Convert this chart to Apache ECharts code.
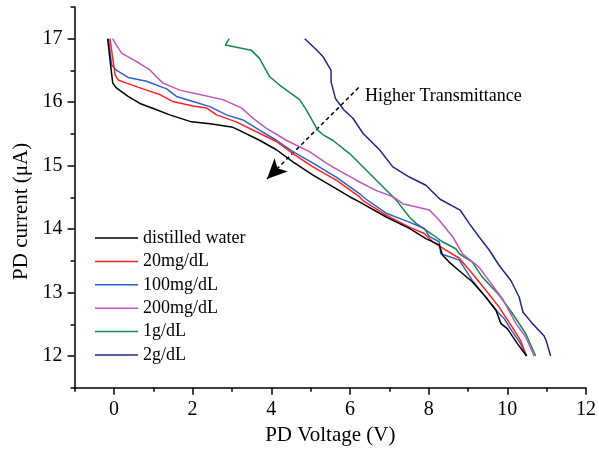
<!DOCTYPE html>
<html>
<head>
<meta charset="utf-8">
<script src="https://cdn.jsdelivr.net/npm/echarts@6/dist/echarts.min.js"></script>
<style>
  html, body { margin: 0; padding: 0; background: #fff; }
  #chart { width: 599px; height: 452px; }
</style>
</head>
<body>
<div id="chart"></div>
<script>
// PD current vs PD voltage, [voltage V, current uA]
const names = ["distilled water", "20mg/dL", "100mg/dL", "200mg/dL", "1g/dL", "2g/dL"];
const colors = ["#000000", "#ff2020", "#2f60c8", "#c055c0", "#108a48", "#1c2a80"];

const distilledWater = [[-0.16,17],[-0.08,16.56],[-0.03,16.3],[0.07,16.22],[0.36,16.09],[0.66,15.98],[1.0,15.9],[1.42,15.8],[1.97,15.69],[2.44,15.66],[2.99,15.61],[3.11,15.58],[3.7,15.4],[4.13,15.25],[4.55,15.06],[5.06,14.85],[5.56,14.67],[5.99,14.51],[6.24,14.43],[6.92,14.19],[7.51,14.01],[7.93,13.85],[8.27,13.75],[8.35,13.59],[8.52,13.48],[8.86,13.3],[9.11,13.17],[9.45,12.93],[9.71,12.72],[9.84,12.51],[10.0,12.43],[10.26,12.19],[10.49,12]];
const mg20 = [[-0.1,17],[0.03,16.43],[0.11,16.35],[0.32,16.3],[0.83,16.19],[1.17,16.12],[1.5,16.01],[2.01,15.94],[2.35,15.91],[2.61,15.8],[3.11,15.69],[3.7,15.51],[4.13,15.38],[4.55,15.19],[5.06,14.98],[5.65,14.77],[6.24,14.51],[6.33,14.45],[6.92,14.22],[7.51,14.03],[7.89,13.93],[8.1,13.8],[8.44,13.67],[8.78,13.54],[9.11,13.3],[9.45,13.04],[9.79,12.77],[10.13,12.45],[10.34,12.24],[10.49,12]];
const mg100 = [[-0.14,17],[-0.06,16.59],[0.07,16.5],[0.36,16.39],[0.83,16.33],[1.34,16.21],[1.59,16.09],[2.01,16.01],[2.44,15.93],[2.86,15.8],[3.28,15.72],[3.7,15.56],[4.13,15.4],[4.55,15.22],[5.06,15.04],[5.65,14.82],[6.24,14.56],[6.41,14.47],[6.92,14.25],[7.51,14.11],[7.89,14.01],[8.02,13.88],[8.27,13.8],[8.31,13.61],[8.78,13.51],[9.11,13.19],[9.45,12.93],[9.79,12.67],[9.92,12.59],[10.13,12.38],[10.34,12.19],[10.49,12]];
const mg200 = [[-0.03,17],[0.03,16.93],[0.2,16.77],[0.58,16.64],[0.91,16.51],[1.08,16.4],[1.25,16.3],[1.67,16.19],[2.18,16.12],[2.77,16.04],[3.24,15.91],[3.53,15.75],[3.87,15.59],[4.38,15.4],[4.97,15.22],[5.4,15.04],[5.56,14.98],[6.16,14.77],[6.66,14.61],[7.09,14.51],[7.34,14.4],[8.02,14.3],[8.27,14.14],[8.61,13.88],[8.86,13.61],[9.28,13.4],[9.71,13.04],[9.88,12.9],[10.22,12.51],[10.47,12.3],[10.68,12]];
const g1 = [[2.93,17],[2.83,16.9],[3.49,16.82],[3.7,16.69],[3.96,16.4],[4.21,16.27],[4.72,16.04],[4.89,15.88],[5.18,15.56],[5.31,15.49],[5.56,15.4],[5.99,15.19],[6.41,14.93],[6.83,14.67],[7.17,14.46],[7.51,14.19],[7.68,14.09],[8.06,13.93],[8.35,13.8],[8.69,13.69],[8.78,13.61],[9.11,13.48],[9.37,13.24],[9.79,12.96],[10.13,12.67],[10.47,12.35],[10.72,12]];
const g2 = [[4.85,17],[5.14,16.83],[5.31,16.72],[5.52,16.5],[5.52,16.32],[5.63,16.06],[5.84,15.88],[6.07,15.75],[6.33,15.51],[6.75,15.25],[7.09,14.98],[7.51,14.82],[7.93,14.69],[8.29,14.47],[8.8,14.3],[9.03,14.09],[9.28,13.88],[9.54,13.67],[9.79,13.43],[10.09,13.19],[10.3,12.93],[10.4,12.69],[10.64,12.51],[10.93,12.32],[10.99,12.24],[11.1,12]];

const allData = [distilledWater, mg20, mg100, mg200, g1, g2];

const xMajor = [0, 2, 4, 6, 8, 10, 12];
const xMinor = [-1, 1, 3, 5, 7, 9, 11];
const yMajor = [12, 13, 14, 15, 16, 17];
const yMinor = [11.5, 12.5, 13.5, 14.5, 15.5, 16.5, 17.5];

// dashed arrow ends (data coords)
const arrowFrom = [6.22, 16.23];
const arrowTo = [3.89, 14.79];

const font = "'Liberation Serif', 'Times New Roman', serif";

const series = allData.map((d, i) => ({
  name: names[i],
  type: 'line',
  data: d,
  symbol: 'none',
  showSymbol: false,
  color: colors[i],
  lineStyle: { color: colors[i], width: 1.5 },
  z: 10 - i
}));

// arrow "Higher Transmittance"
series[0].markLine = {
  silent: true,
  symbol: ['none', 'arrow'],
  symbolSize: [14, 20],
  label: { show: false },
  lineStyle: { color: '#000', type: [4, 3], width: 1.5 },
  data: [[{ coord: arrowFrom }, { coord: arrowTo }]]
};

const chart = echarts.init(document.getElementById('chart'));
chart.setOption({
  animation: false,
  backgroundColor: '#fff',
  textStyle: { fontFamily: font },
  grid: { left: 74.6, right: 12, top: 7, bottom: 64.3 },
  legend: {
    orient: 'vertical',
    left: 95,
    top: 228,
    padding: 0,
    icon: 'rect',
    itemWidth: 43,
    itemHeight: 1.5,
    itemGap: 3.4,
    data: names,
    textStyle: { fontFamily: font, fontSize: 18, color: '#000', lineHeight: 20 }
  },
  graphic: [{
    type: 'text',
    left: 365,
    top: 87,
    style: { text: 'Higher Transmittance', font: '18px ' + font, fill: '#000' }
  }],
  xAxis: [{
    type: 'value',
    min: -1,
    max: 12,
    position: 'bottom',
    name: 'PD Voltage (V)',
    nameLocation: 'middle',
    nameGap: 32,
    nameTextStyle: { fontSize: 21, color: '#000', fontFamily: font },
    splitLine: { show: false },
    axisLine: { show: true, onZero: false, lineStyle: { color: '#000', width: 1.5 } },
    axisTick: { show: true, length: 7, customValues: xMajor, lineStyle: { color: '#000', width: 1.5 } },
    axisLabel: { customValues: xMajor, fontSize: 20, margin: 12, color: '#000', fontFamily: font }
  }, {
    type: 'value',
    min: -1,
    max: 12,
    position: 'bottom',
    splitLine: { show: false },
    axisLine: { show: false, onZero: false },
    axisTick: { show: true, length: 4, customValues: xMinor, lineStyle: { color: '#000', width: 1.5 } },
    axisLabel: { show: false }
  }],
  yAxis: [{
    type: 'value',
    min: 11.5,
    max: 17.5,
    position: 'left',
    name: 'PD current (\u03bcA)',
    nameLocation: 'middle',
    nameRotate: 90,
    nameGap: 40,
    nameTextStyle: { fontSize: 21, color: '#000', fontFamily: font, padding: [0, 28, 0, 0] },
    splitLine: { show: false },
    axisLine: { show: true, onZero: false, lineStyle: { color: '#000', width: 1.5 } },
    axisTick: { show: true, length: 7, customValues: yMajor, lineStyle: { color: '#000', width: 1.5 } },
    axisLabel: { customValues: yMajor, fontSize: 20, margin: 12, color: '#000', fontFamily: font }
  }, {
    type: 'value',
    min: 11.5,
    max: 17.5,
    position: 'left',
    splitLine: { show: false },
    axisLine: { show: false, onZero: false },
    axisTick: { show: true, length: 4, customValues: yMinor, lineStyle: { color: '#000', width: 1.5 } },
    axisLabel: { show: false }
  }],
  series: series
});
</script>
</body>
</html>
